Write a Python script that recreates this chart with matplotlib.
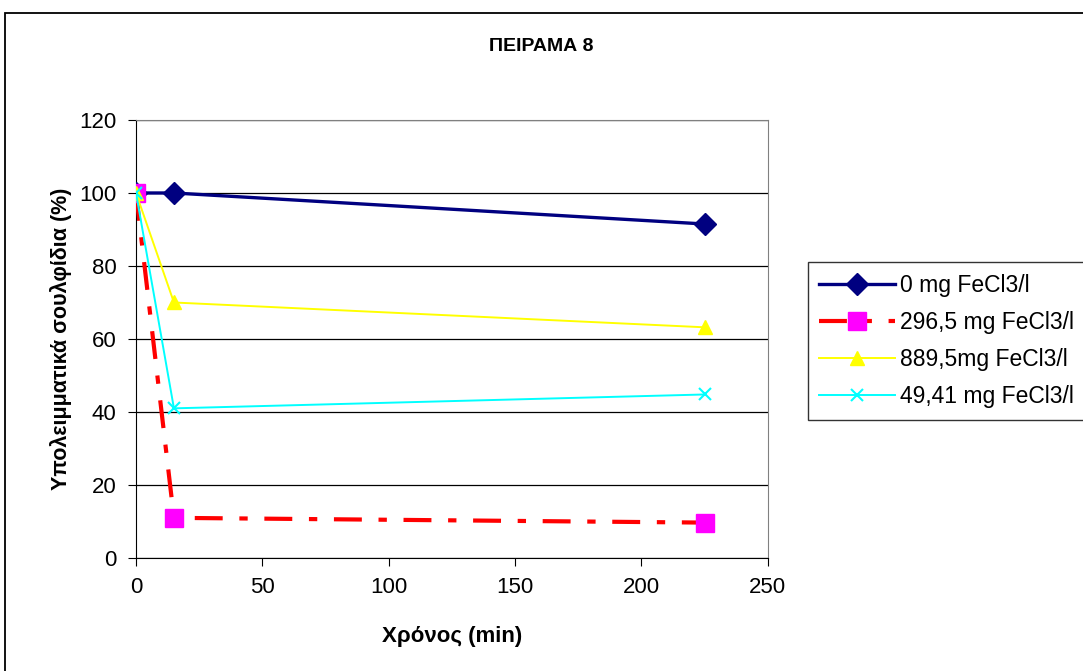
import matplotlib.pyplot as plt
from matplotlib.patches import Rectangle

plt.rcParams['font.family'] = ['Liberation Sans', 'DejaVu Sans']

# time (min)
time = [0, 15, 225]

# remaining sulphide (%)
fecl3_0 = [100, 100, 91.5]
fecl3_296 = [100, 11, 9.7]
fecl3_889 = [100, 70, 63.2]
fecl3_49 = [100, 41, 44.8]

labels = ['0 mg FeCl3/l', '296,5 mg FeCl3/l', '889,5mg FeCl3/l', '49,41 mg FeCl3/l']

fig = plt.figure(figsize=(10.83, 6.71), dpi=100)
ax = fig.add_axes([0.1256, 0.1684, 0.5834, 0.6528])

# outer chart border
fig.patches.append(Rectangle((0.005, -0.1), 1.2, 1.08, transform=fig.transFigure,
                             fill=False, edgecolor='black', linewidth=1.3))

ax.plot(time, fecl3_0, color='#000080', linewidth=2.4, marker='D', markersize=11,
        label=labels[0], zorder=3)
ax.plot(time, fecl3_296, color='#FF0000', linewidth=3, linestyle=(0, (6.7, 4, 2, 4)),
        marker='s', markersize=13.5, markerfacecolor='#FF00FF', markeredgecolor='#FF00FF',
        label=labels[1], zorder=4)
ax.plot(time, fecl3_889, color='#FFFF00', linewidth=1.4, marker='^', markersize=10,
        label=labels[2], zorder=5)
ax.plot(time, fecl3_49, color='#00FFFF', linewidth=1.4, marker='x', markersize=9,
        markeredgewidth=1.5, label=labels[3], zorder=6)

ax.set_xlim(0, 250)
ax.set_ylim(0, 120)
ax.set_xticks([0, 50, 100, 150, 200, 250])
ax.set_yticks([0, 20, 40, 60, 80, 100, 120])
ax.yaxis.grid(True, color='black', linewidth=0.9)
ax.set_axisbelow(True)
ax.tick_params(labelsize=16, direction='out', length=6, pad=8)
for s in ['top', 'right']:
    ax.spines[s].set_color('#808080')
for s in ['left', 'bottom']:
    ax.spines[s].set_color('black')

ax.set_xlabel('Χρόνος (min)', fontsize=16, fontweight='bold', labelpad=20)
ax.set_ylabel('Υπολειμματικά σουλφίδια (%)', fontsize=15.5, fontweight='bold', labelpad=5)
fig.text(0.5, 0.931, 'ΠΕΙΡΑΜΑ 8', fontsize=14, fontweight='bold', ha='center', va='center')

leg = ax.legend(loc='upper left', bbox_to_anchor=(1.063, 0.675), fontsize=16.5,
                frameon=True, fancybox=False, edgecolor='black', borderpad=0.5,
                labelspacing=0.62, handlelength=3.3, handletextpad=0.25,
                borderaxespad=0)
leg._legend_box.align = 'left'
leg.get_frame().set_linewidth(1)

fig.savefig('out.png', dpi=100)
